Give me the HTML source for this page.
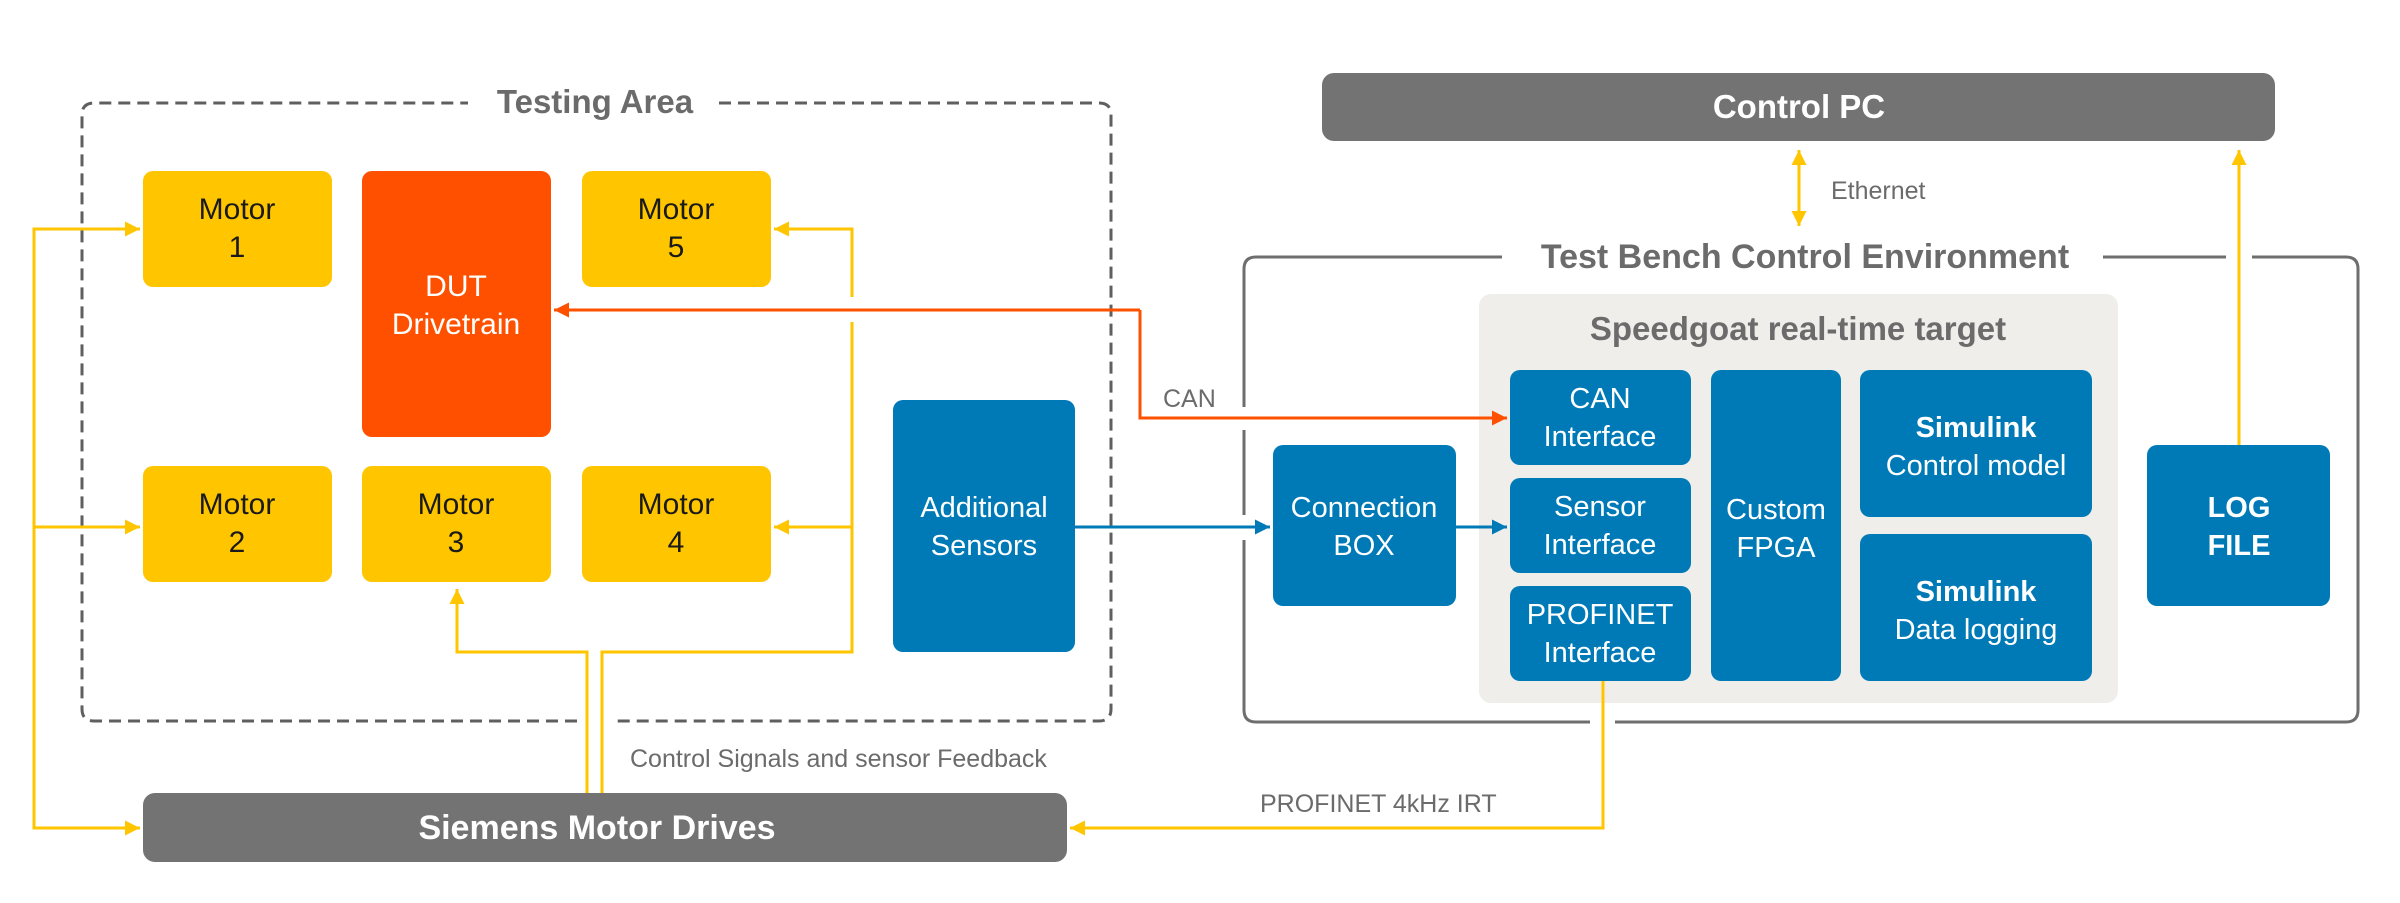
<!DOCTYPE html>
<html><head><meta charset="utf-8"><style>
html,body{margin:0;padding:0;background:#fff;}
svg{display:block;}
text{font-family:"Liberation Sans",sans-serif;}
</style></head><body>
<svg width="2400" height="903" viewBox="0 0 2400 903" xmlns="http://www.w3.org/2000/svg">
<defs>
<marker id="ay" viewBox="0 0 10 10" refX="10" refY="5" markerWidth="5" markerHeight="5" orient="auto-start-reverse"><path d="M0,0L10,5L0,10z" fill="#FFC600"/></marker>
<marker id="ao" viewBox="0 0 10 10" refX="10" refY="5" markerWidth="5" markerHeight="5" orient="auto"><path d="M0,0L10,5L0,10z" fill="#FF5000"/></marker>
<marker id="ab" viewBox="0 0 10 10" refX="10" refY="5" markerWidth="5" markerHeight="5" orient="auto"><path d="M0,0L10,5L0,10z" fill="#007AB7"/></marker>
</defs>

<!-- Testing area dashed box -->
<path d="M719,103 H1099 Q1111,103 1111,115 V709 Q1111,721 1099,721 H612 M577,721 H94 Q82,721 82,709 V115 Q82,103 94,103 H468" fill="none" stroke="#5f5f5f" stroke-width="3" stroke-dasharray="12,7"/>
<text x="595" y="113" font-size="33" font-weight="bold" fill="#6b6b6b" text-anchor="middle">Testing Area</text>

<!-- Test Bench box -->
<path d="M2103,257 H2226 M2252,257 H2346 Q2358,257 2358,269 V710 Q2358,722 2346,722 H1615 M1590,722 H1256 Q1244,722 1244,710 V540 M1244,515 V430 M1244,407 V269 Q1244,257 1256,257 H1502" fill="none" stroke="#6e6e6e" stroke-width="3"/>
<text x="1805" y="268" font-size="34" font-weight="bold" fill="#6b6b6b" text-anchor="middle">Test Bench Control Environment</text>

<!-- Speedgoat -->
<rect x="1479" y="294" width="639" height="409" rx="12" fill="#EFEEEB"/>
<text x="1798" y="340" font-size="33" font-weight="bold" fill="#6b6b6b" text-anchor="middle">Speedgoat real-time target</text>

<!-- Control PC -->
<rect x="1322" y="73" width="953" height="68" rx="12" fill="#737373"/>
<text x="1799" y="118" font-size="33" font-weight="bold" fill="#fff" text-anchor="middle">Control PC</text>

<!-- Siemens -->
<rect x="143" y="793" width="924" height="69" rx="12" fill="#737373"/>
<text x="597" y="839" font-size="34" font-weight="bold" fill="#fff" text-anchor="middle">Siemens Motor Drives</text>

<!-- Yellow motors -->
<g fill="#FFC600">
<rect x="143" y="171" width="189" height="116" rx="10"/>
<rect x="582" y="171" width="189" height="116" rx="10"/>
<rect x="143" y="466" width="189" height="116" rx="10"/>
<rect x="362" y="466" width="189" height="116" rx="10"/>
<rect x="582" y="466" width="189" height="116" rx="10"/>
</g>
<rect x="362" y="171" width="189" height="266" rx="10" fill="#FF5000"/>
<g font-size="30" fill="#1a1a1a" text-anchor="middle">
<text x="237" y="219">Motor</text><text x="237" y="257">1</text>
<text x="676" y="219">Motor</text><text x="676" y="257">5</text>
<text x="237" y="514">Motor</text><text x="237" y="552">2</text>
<text x="456" y="514">Motor</text><text x="456" y="552">3</text>
<text x="676" y="514">Motor</text><text x="676" y="552">4</text>
</g>
<g font-size="30" fill="#fff" text-anchor="middle">
<text x="456" y="296">DUT</text><text x="456" y="334">Drivetrain</text>
</g>

<!-- Blue boxes -->
<g fill="#007AB7">
<rect x="893" y="400" width="182" height="252" rx="10"/>
<rect x="1273" y="445" width="183" height="161" rx="10"/>
<rect x="1510" y="370" width="181" height="95" rx="10"/>
<rect x="1510" y="478" width="181" height="95" rx="10"/>
<rect x="1510" y="586" width="181" height="95" rx="10"/>
<rect x="1711" y="370" width="130" height="311" rx="10"/>
<rect x="1860" y="370" width="232" height="147" rx="10"/>
<rect x="1860" y="534" width="232" height="147" rx="10"/>
<rect x="2147" y="445" width="183" height="161" rx="10"/>
</g>
<g font-size="29" fill="#fff" text-anchor="middle">
<text x="984" y="517">Additional</text><text x="984" y="555">Sensors</text>
<text x="1364" y="517">Connection</text><text x="1364" y="555">BOX</text>
<text x="1600" y="408">CAN</text><text x="1600" y="446">Interface</text>
<text x="1600" y="516">Sensor</text><text x="1600" y="554">Interface</text>
<text x="1600" y="624">PROFINET</text><text x="1600" y="662">Interface</text>
<text x="1776" y="519">Custom</text><text x="1776" y="557">FPGA</text>
<text x="1976" y="437" font-weight="bold">Simulink</text><text x="1976" y="475">Control model</text>
<text x="1976" y="601" font-weight="bold">Simulink</text><text x="1976" y="639">Data logging</text>
<text x="2239" y="517" font-weight="bold">LOG</text><text x="2239" y="555" font-weight="bold">FILE</text>
</g>

<!-- Yellow connectors -->
<g fill="none" stroke="#FFC600" stroke-width="3">
<path d="M140,229 H34 V828 H140" marker-end="url(#ay)"/>
<path d="M34,229 H140" marker-end="url(#ay)"/>
<path d="M34,527 H140" marker-end="url(#ay)"/>
<path d="M852,297 V229 H774" marker-end="url(#ay)"/>
<path d="M602,793 V652 H852 V322"/>
<path d="M852,527 H774" marker-end="url(#ay)"/>
<path d="M587,793 V652 H457 V589" marker-end="url(#ay)"/>
<path d="M1603,681 V828 H1070" marker-end="url(#ay)"/>
<path d="M1799,150 V226" marker-start="url(#ay)" marker-end="url(#ay)"/>
<path d="M2239,445 V150" marker-end="url(#ay)"/>
</g>
<!-- Orange CAN -->
<path d="M1140,310 V418 H1507" fill="none" stroke="#FF5000" stroke-width="3" marker-end="url(#ao)"/>
<path d="M1140,310 H554" fill="none" stroke="#FF5000" stroke-width="3" marker-end="url(#ao)"/>
<!-- Blue -->
<path d="M1075,527 H1270" fill="none" stroke="#007AB7" stroke-width="3" marker-end="url(#ab)"/>
<path d="M1456,527 H1507" fill="none" stroke="#007AB7" stroke-width="3" marker-end="url(#ab)"/>

<!-- Labels -->
<g font-size="25" fill="#6b6b6b">
<text x="1163" y="407">CAN</text>
<text x="1831" y="199">Ethernet</text>
<text x="630" y="767">Control Signals and sensor Feedback</text>
<text x="1260" y="812">PROFINET 4kHz IRT</text>
</g>
</svg>
</body></html>
